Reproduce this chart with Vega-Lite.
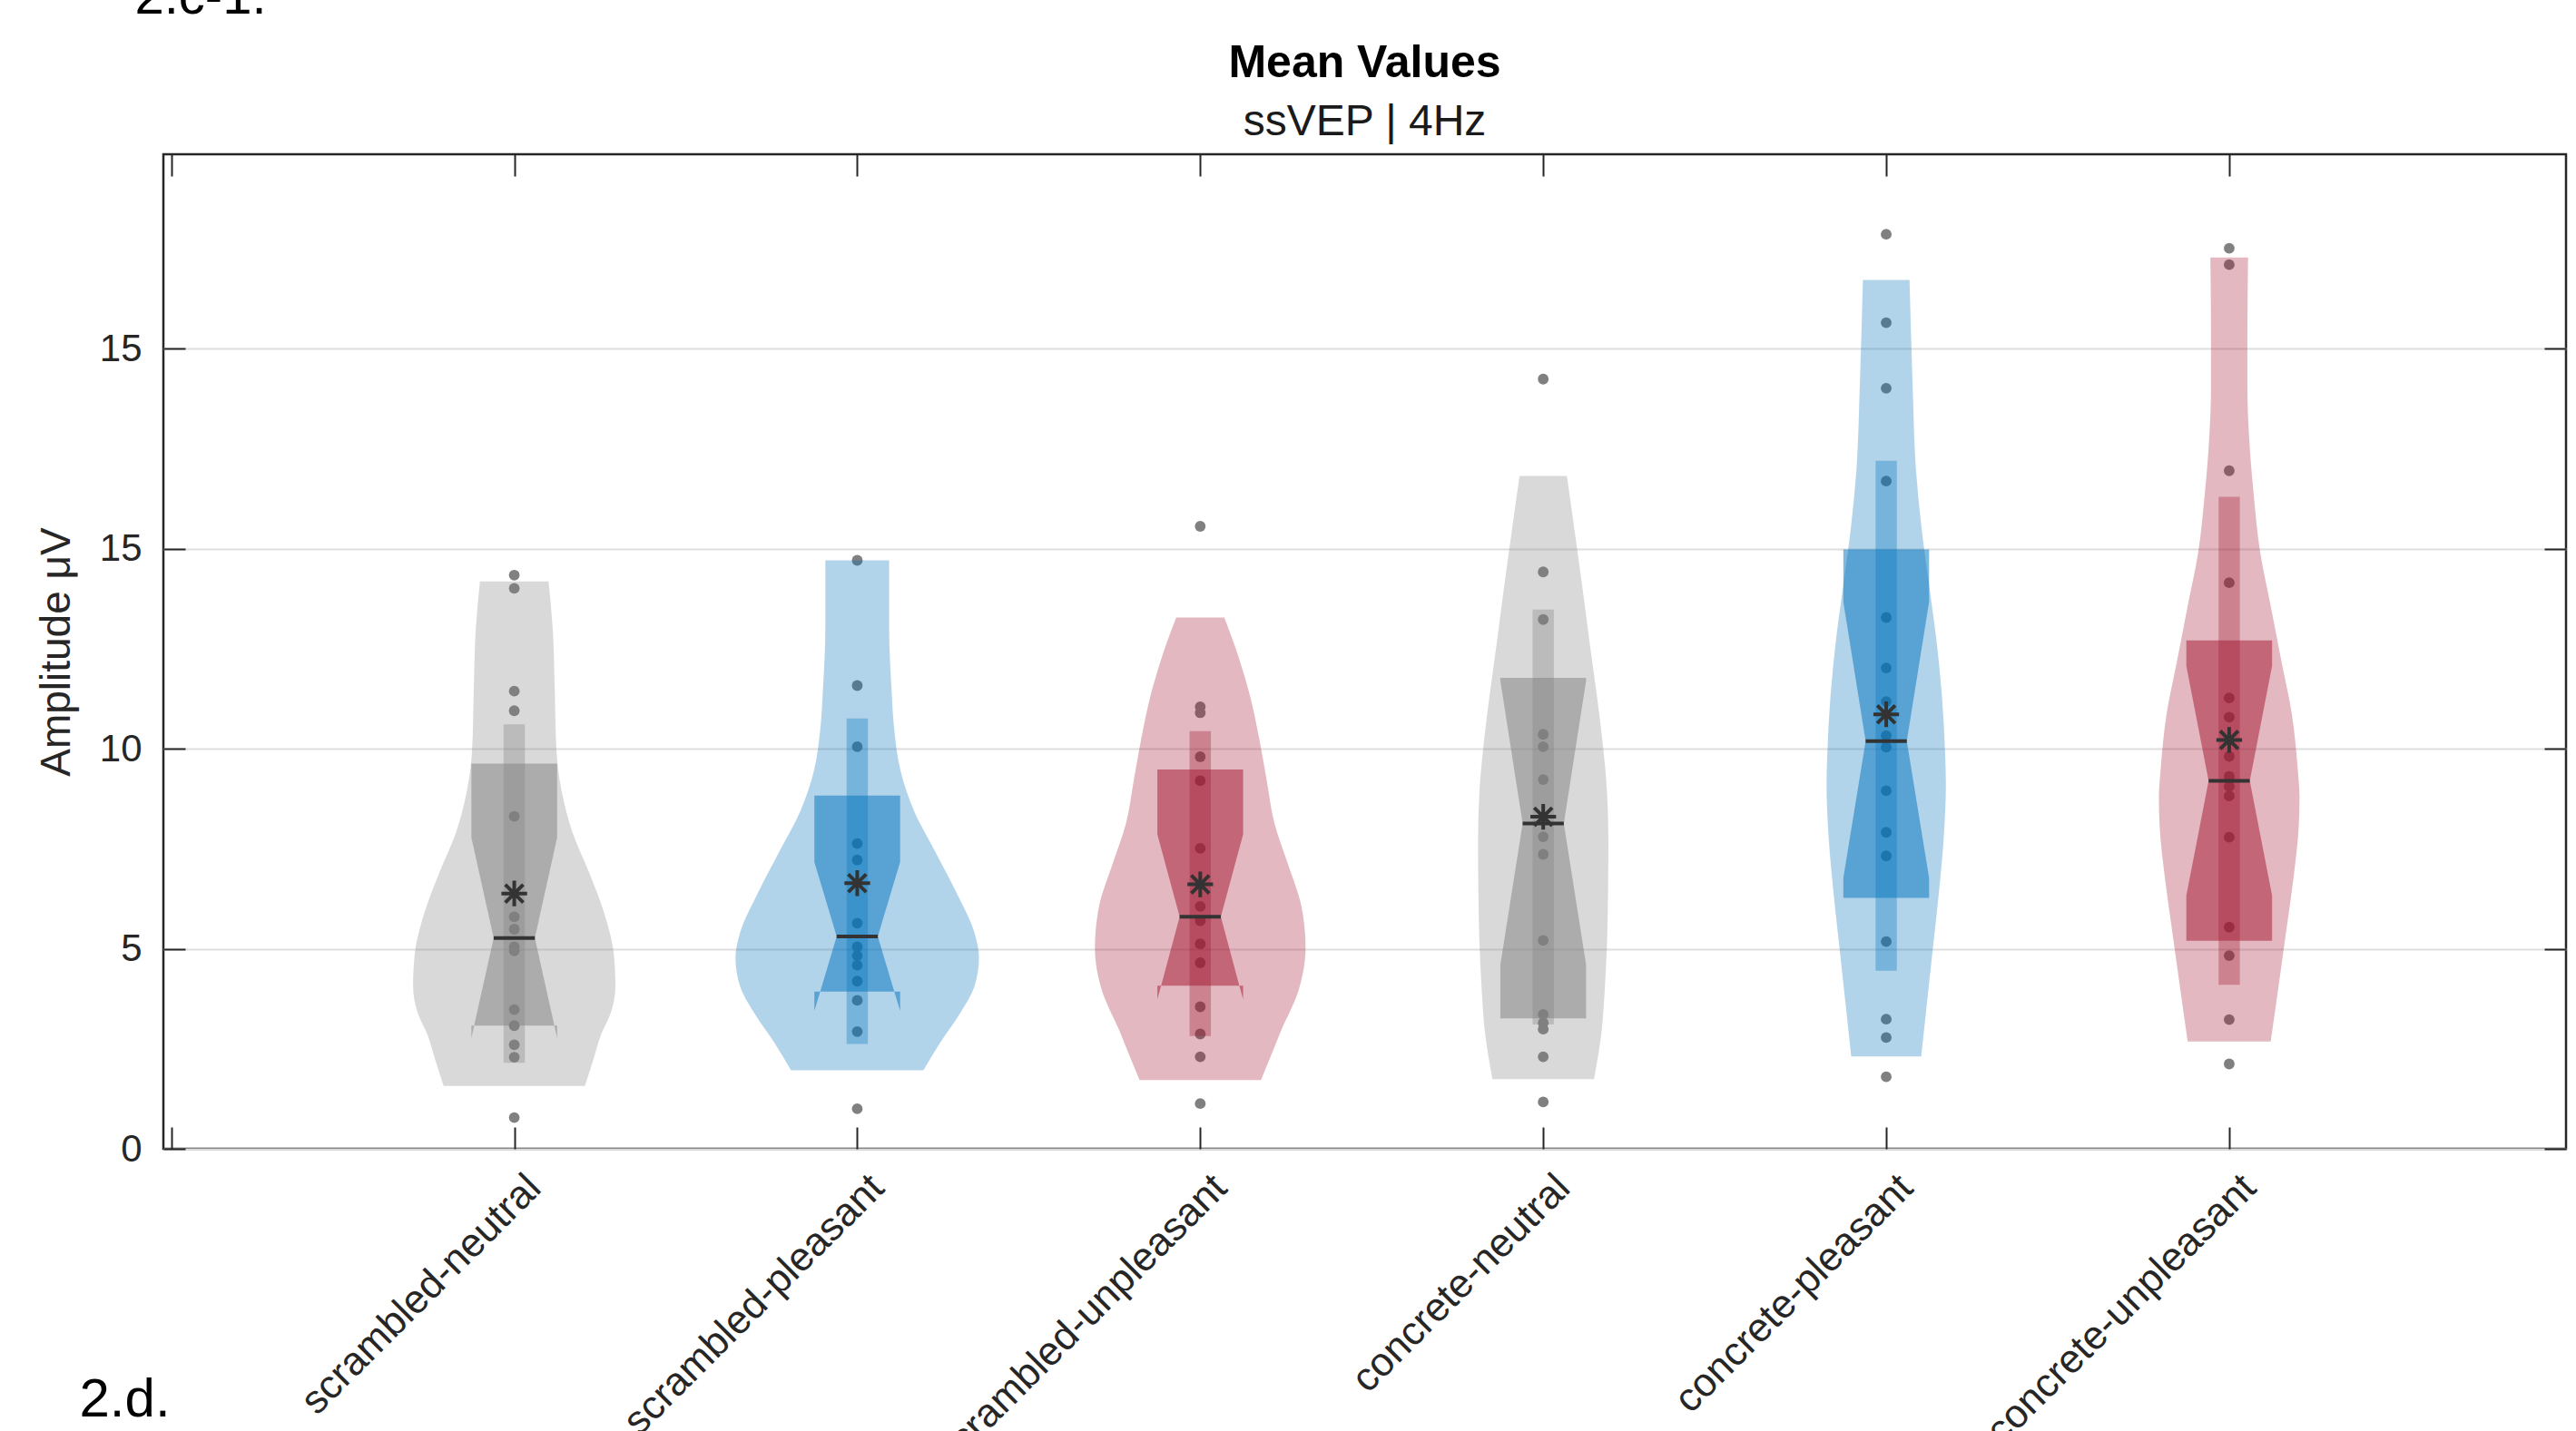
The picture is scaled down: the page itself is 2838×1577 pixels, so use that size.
{
  "$schema": "https://vega.github.io/schema/vega-lite/v6.json",
  "autosize": "none",
  "width": 2647,
  "height": 1096,
  "padding": {"left": 180, "top": 170, "right": 11, "bottom": 311},
  "background": "white",
  "config": {
    "font": "Liberation Sans",
    "view": {"stroke": "#262626", "strokeWidth": 2.5}
  },
  "title": {
    "text": "Mean Values",
    "subtitle": "ssVEP | 4Hz",
    "frame": "group",
    "anchor": "middle",
    "font": "Liberation Sans",
    "fontSize": 50,
    "fontWeight": "bold",
    "color": "#000000",
    "subtitleFont": "Liberation Sans",
    "subtitleFontSize": 48,
    "subtitleFontWeight": "normal",
    "subtitleColor": "#1a1a1a",
    "subtitlePadding": 16,
    "offset": -191
  },
  "datasets": {
    "pts": [
      {"c":1,"g":"neutral","v":14.34},{"c":1,"g":"neutral","v":14.01},{"c":1,"g":"neutral","v":11.44},{"c":1,"g":"neutral","v":10.95},{"c":1,"g":"neutral","v":8.31},{"c":1,"g":"neutral","v":5.80},{"c":1,"g":"neutral","v":5.49},{"c":1,"g":"neutral","v":5.05},{"c":1,"g":"neutral","v":4.95},{"c":1,"g":"neutral","v":3.48},{"c":1,"g":"neutral","v":3.08},{"c":1,"g":"neutral","v":2.60},{"c":1,"g":"neutral","v":2.29},{"c":1,"g":"neutral","v":0.78},
      {"c":2,"g":"pleasant","v":14.71},{"c":2,"g":"pleasant","v":11.58},{"c":2,"g":"pleasant","v":10.05},{"c":2,"g":"pleasant","v":7.63},{"c":2,"g":"pleasant","v":7.22},{"c":2,"g":"pleasant","v":5.64},{"c":2,"g":"pleasant","v":5.05},{"c":2,"g":"pleasant","v":4.83},{"c":2,"g":"pleasant","v":4.59},{"c":2,"g":"pleasant","v":4.19},{"c":2,"g":"pleasant","v":3.71},{"c":2,"g":"pleasant","v":2.93},{"c":2,"g":"pleasant","v":1.00},
      {"c":3,"g":"unpleasant","v":15.56},{"c":3,"g":"unpleasant","v":11.05},{"c":3,"g":"unpleasant","v":10.90},{"c":3,"g":"unpleasant","v":9.80},{"c":3,"g":"unpleasant","v":9.20},{"c":3,"g":"unpleasant","v":7.51},{"c":3,"g":"unpleasant","v":6.06},{"c":3,"g":"unpleasant","v":5.70},{"c":3,"g":"unpleasant","v":5.12},{"c":3,"g":"unpleasant","v":4.65},{"c":3,"g":"unpleasant","v":3.55},{"c":3,"g":"unpleasant","v":2.87},{"c":3,"g":"unpleasant","v":2.30},{"c":3,"g":"unpleasant","v":1.13},
      {"c":4,"g":"neutral","v":19.24},{"c":4,"g":"neutral","v":14.42},{"c":4,"g":"neutral","v":13.23},{"c":4,"g":"neutral","v":10.36},{"c":4,"g":"neutral","v":10.05},{"c":4,"g":"neutral","v":9.23},{"c":4,"g":"neutral","v":7.80},{"c":4,"g":"neutral","v":7.36},{"c":4,"g":"neutral","v":5.21},{"c":4,"g":"neutral","v":3.36},{"c":4,"g":"neutral","v":3.15},{"c":4,"g":"neutral","v":2.99},{"c":4,"g":"neutral","v":2.30},{"c":4,"g":"neutral","v":1.17},
      {"c":5,"g":"pleasant","v":22.86},{"c":5,"g":"pleasant","v":20.65},{"c":5,"g":"pleasant","v":19.01},{"c":5,"g":"pleasant","v":16.69},{"c":5,"g":"pleasant","v":13.28},{"c":5,"g":"pleasant","v":12.02},{"c":5,"g":"pleasant","v":11.18},{"c":5,"g":"pleasant","v":10.33},{"c":5,"g":"pleasant","v":10.04},{"c":5,"g":"pleasant","v":8.95},{"c":5,"g":"pleasant","v":7.91},{"c":5,"g":"pleasant","v":7.32},{"c":5,"g":"pleasant","v":5.18},{"c":5,"g":"pleasant","v":3.24},{"c":5,"g":"pleasant","v":2.78},{"c":5,"g":"pleasant","v":1.80},
      {"c":6,"g":"unpleasant","v":22.51},{"c":6,"g":"unpleasant","v":22.10},{"c":6,"g":"unpleasant","v":16.95},{"c":6,"g":"unpleasant","v":14.15},{"c":6,"g":"unpleasant","v":11.27},{"c":6,"g":"unpleasant","v":10.79},{"c":6,"g":"unpleasant","v":9.81},{"c":6,"g":"unpleasant","v":9.31},{"c":6,"g":"unpleasant","v":9.06},{"c":6,"g":"unpleasant","v":8.82},{"c":6,"g":"unpleasant","v":7.79},{"c":6,"g":"unpleasant","v":5.54},{"c":6,"g":"unpleasant","v":4.83},{"c":6,"g":"unpleasant","v":3.23},{"c":6,"g":"unpleasant","v":2.12}
    ],
    "shp": [
      {"c":1,"g":"neutral","k":"v","y":1.57,"lo":0.794,"hi":1.206},{"c":1,"g":"neutral","k":"v","y":2.24,"lo":0.769,"hi":1.231},{"c":1,"g":"neutral","k":"v","y":2.85,"lo":0.747,"hi":1.253},{"c":1,"g":"neutral","k":"v","y":3.36,"lo":0.72,"hi":1.28},{"c":1,"g":"neutral","k":"v","y":4.07,"lo":0.705,"hi":1.295},{"c":1,"g":"neutral","k":"v","y":4.88,"lo":0.71,"hi":1.29},{"c":1,"g":"neutral","k":"v","y":5.90,"lo":0.738,"hi":1.262},{"c":1,"g":"neutral","k":"v","y":6.91,"lo":0.782,"hi":1.218},{"c":1,"g":"neutral","k":"v","y":7.93,"lo":0.831,"hi":1.169},{"c":1,"g":"neutral","k":"v","y":8.95,"lo":0.862,"hi":1.138},{"c":1,"g":"neutral","k":"v","y":9.96,"lo":0.877,"hi":1.123},{"c":1,"g":"neutral","k":"v","y":11.49,"lo":0.882,"hi":1.118},{"c":1,"g":"neutral","k":"v","y":13.02,"lo":0.888,"hi":1.112},{"c":1,"g":"neutral","k":"v","y":14.18,"lo":0.90,"hi":1.10},
      {"c":1,"g":"neutral","k":"b","y":3.08,"lo":0.883,"hi":1.117},{"c":1,"g":"neutral","k":"b","y":5.27,"lo":0.94,"hi":1.06},{"c":1,"g":"neutral","k":"b","y":7.78,"lo":0.875,"hi":1.125},{"c":1,"g":"neutral","k":"b","y":9.63,"lo":0.875,"hi":1.125},
      {"c":1,"g":"neutral","k":"el","y":2.76,"lo":0.875,"hi":0.875},{"c":1,"g":"neutral","k":"el","y":3.08,"lo":0.875,"hi":0.883},{"c":1,"g":"neutral","k":"er","y":2.76,"lo":1.125,"hi":1.125},{"c":1,"g":"neutral","k":"er","y":3.08,"lo":1.117,"hi":1.125},
      {"c":1,"g":"neutral","k":"s","y":2.15,"lo":0.969,"hi":1.031},{"c":1,"g":"neutral","k":"s","y":10.61,"lo":0.969,"hi":1.031},

      {"c":2,"g":"pleasant","k":"v","y":1.96,"lo":1.807,"hi":2.193},{"c":2,"g":"pleasant","k":"v","y":2.64,"lo":1.759,"hi":2.241},{"c":2,"g":"pleasant","k":"v","y":3.36,"lo":1.702,"hi":2.298},{"c":2,"g":"pleasant","k":"v","y":4.07,"lo":1.658,"hi":2.342},{"c":2,"g":"pleasant","k":"v","y":4.78,"lo":1.645,"hi":2.355},{"c":2,"g":"pleasant","k":"v","y":5.39,"lo":1.658,"hi":2.342},{"c":2,"g":"pleasant","k":"v","y":6.41,"lo":1.711,"hi":2.289},{"c":2,"g":"pleasant","k":"v","y":7.42,"lo":1.772,"hi":2.228},{"c":2,"g":"pleasant","k":"v","y":8.44,"lo":1.834,"hi":2.166},{"c":2,"g":"pleasant","k":"v","y":9.46,"lo":1.874,"hi":2.126},{"c":2,"g":"pleasant","k":"v","y":10.47,"lo":1.892,"hi":2.108},{"c":2,"g":"pleasant","k":"v","y":11.49,"lo":1.90,"hi":2.10},{"c":2,"g":"pleasant","k":"v","y":13.02,"lo":1.907,"hi":2.093},{"c":2,"g":"pleasant","k":"v","y":14.71,"lo":1.907,"hi":2.093},
      {"c":2,"g":"pleasant","k":"b","y":3.93,"lo":1.892,"hi":2.108},{"c":2,"g":"pleasant","k":"b","y":5.31,"lo":1.94,"hi":2.06},{"c":2,"g":"pleasant","k":"b","y":7.17,"lo":1.875,"hi":2.125},{"c":2,"g":"pleasant","k":"b","y":8.83,"lo":1.875,"hi":2.125},
      {"c":2,"g":"pleasant","k":"el","y":3.45,"lo":1.875,"hi":1.875},{"c":2,"g":"pleasant","k":"el","y":3.93,"lo":1.875,"hi":1.892},{"c":2,"g":"pleasant","k":"er","y":3.45,"lo":2.125,"hi":2.125},{"c":2,"g":"pleasant","k":"er","y":3.93,"lo":2.108,"hi":2.125},
      {"c":2,"g":"pleasant","k":"s","y":2.62,"lo":1.969,"hi":2.031},{"c":2,"g":"pleasant","k":"s","y":10.76,"lo":1.969,"hi":2.031},

      {"c":3,"g":"unpleasant","k":"v","y":1.72,"lo":2.823,"hi":3.177},{"c":3,"g":"unpleasant","k":"v","y":2.30,"lo":2.795,"hi":3.205},{"c":3,"g":"unpleasant","k":"v","y":2.92,"lo":2.766,"hi":3.234},{"c":3,"g":"unpleasant","k":"v","y":3.97,"lo":2.713,"hi":3.287},{"c":3,"g":"unpleasant","k":"v","y":5.02,"lo":2.693,"hi":3.307},{"c":3,"g":"unpleasant","k":"v","y":6.06,"lo":2.705,"hi":3.295},{"c":3,"g":"unpleasant","k":"v","y":7.11,"lo":2.744,"hi":3.256},{"c":3,"g":"unpleasant","k":"v","y":8.15,"lo":2.784,"hi":3.216},{"c":3,"g":"unpleasant","k":"v","y":9.20,"lo":2.806,"hi":3.194},{"c":3,"g":"unpleasant","k":"v","y":10.25,"lo":2.828,"hi":3.172},{"c":3,"g":"unpleasant","k":"v","y":11.29,"lo":2.854,"hi":3.146},{"c":3,"g":"unpleasant","k":"v","y":12.34,"lo":2.89,"hi":3.11},{"c":3,"g":"unpleasant","k":"v","y":13.28,"lo":2.93,"hi":3.07},
      {"c":3,"g":"unpleasant","k":"b","y":4.08,"lo":2.886,"hi":3.114},{"c":3,"g":"unpleasant","k":"b","y":5.80,"lo":2.94,"hi":3.06},{"c":3,"g":"unpleasant","k":"b","y":7.86,"lo":2.875,"hi":3.125},{"c":3,"g":"unpleasant","k":"b","y":9.48,"lo":2.875,"hi":3.125},
      {"c":3,"g":"unpleasant","k":"el","y":3.74,"lo":2.875,"hi":2.875},{"c":3,"g":"unpleasant","k":"el","y":4.08,"lo":2.875,"hi":2.886},{"c":3,"g":"unpleasant","k":"er","y":3.74,"lo":3.125,"hi":3.125},{"c":3,"g":"unpleasant","k":"er","y":4.08,"lo":3.114,"hi":3.125},
      {"c":3,"g":"unpleasant","k":"s","y":2.82,"lo":2.969,"hi":3.031},{"c":3,"g":"unpleasant","k":"s","y":10.44,"lo":2.969,"hi":3.031},

      {"c":4,"g":"neutral","k":"v","y":1.74,"lo":3.852,"hi":4.148},{"c":4,"g":"neutral","k":"v","y":2.92,"lo":3.83,"hi":4.17},{"c":4,"g":"neutral","k":"v","y":3.92,"lo":3.821,"hi":4.179},{"c":4,"g":"neutral","k":"v","y":5.17,"lo":3.814,"hi":4.186},{"c":4,"g":"neutral","k":"v","y":6.42,"lo":3.811,"hi":4.189},{"c":4,"g":"neutral","k":"v","y":7.67,"lo":3.81,"hi":4.19},{"c":4,"g":"neutral","k":"v","y":8.92,"lo":3.814,"hi":4.186},{"c":4,"g":"neutral","k":"v","y":10.17,"lo":3.827,"hi":4.173},{"c":4,"g":"neutral","k":"v","y":11.42,"lo":3.845,"hi":4.155},{"c":4,"g":"neutral","k":"v","y":12.67,"lo":3.865,"hi":4.135},{"c":4,"g":"neutral","k":"v","y":13.92,"lo":3.884,"hi":4.116},{"c":4,"g":"neutral","k":"v","y":15.17,"lo":3.904,"hi":4.096},{"c":4,"g":"neutral","k":"v","y":16.82,"lo":3.931,"hi":4.069},
      {"c":4,"g":"neutral","k":"b","y":3.26,"lo":3.875,"hi":4.125},{"c":4,"g":"neutral","k":"b","y":4.6,"lo":3.875,"hi":4.125},{"c":4,"g":"neutral","k":"b","y":8.13,"lo":3.94,"hi":4.06},{"c":4,"g":"neutral","k":"b","y":11.70,"lo":3.875,"hi":4.125},{"c":4,"g":"neutral","k":"b","y":11.77,"lo":3.875,"hi":4.125},
      {"c":4,"g":"neutral","k":"s","y":3.11,"lo":3.969,"hi":4.031},{"c":4,"g":"neutral","k":"s","y":13.48,"lo":3.969,"hi":4.031},

      {"c":5,"g":"pleasant","k":"v","y":2.31,"lo":4.898,"hi":5.102},{"c":5,"g":"pleasant","k":"v","y":3.42,"lo":4.884,"hi":5.116},{"c":5,"g":"pleasant","k":"v","y":4.85,"lo":4.866,"hi":5.134},{"c":5,"g":"pleasant","k":"v","y":6.27,"lo":4.848,"hi":5.152},{"c":5,"g":"pleasant","k":"v","y":7.69,"lo":4.833,"hi":5.167},{"c":5,"g":"pleasant","k":"v","y":9.12,"lo":4.826,"hi":5.174},{"c":5,"g":"pleasant","k":"v","y":9.83,"lo":4.828,"hi":5.172},{"c":5,"g":"pleasant","k":"v","y":11.25,"lo":4.837,"hi":5.163},{"c":5,"g":"pleasant","k":"v","y":12.68,"lo":4.853,"hi":5.147},{"c":5,"g":"pleasant","k":"v","y":14.10,"lo":4.875,"hi":5.125},{"c":5,"g":"pleasant","k":"v","y":15.52,"lo":4.897,"hi":5.103},{"c":5,"g":"pleasant","k":"v","y":16.95,"lo":4.913,"hi":5.087},{"c":5,"g":"pleasant","k":"v","y":19.08,"lo":4.923,"hi":5.077},{"c":5,"g":"pleasant","k":"v","y":21.72,"lo":4.932,"hi":5.068},
      {"c":5,"g":"pleasant","k":"b","y":6.27,"lo":4.875,"hi":5.125},{"c":5,"g":"pleasant","k":"b","y":6.77,"lo":4.875,"hi":5.125},{"c":5,"g":"pleasant","k":"b","y":10.19,"lo":4.94,"hi":5.06},{"c":5,"g":"pleasant","k":"b","y":13.67,"lo":4.875,"hi":5.125},{"c":5,"g":"pleasant","k":"b","y":14.98,"lo":4.875,"hi":5.125},
      {"c":5,"g":"pleasant","k":"s","y":4.45,"lo":4.969,"hi":5.031},{"c":5,"g":"pleasant","k":"s","y":17.20,"lo":4.969,"hi":5.031},

      {"c":6,"g":"unpleasant","k":"v","y":2.68,"lo":5.879,"hi":6.121},{"c":6,"g":"unpleasant","k":"v","y":4.01,"lo":5.857,"hi":6.143},{"c":6,"g":"unpleasant","k":"v","y":5.37,"lo":5.835,"hi":6.165},{"c":6,"g":"unpleasant","k":"v","y":6.74,"lo":5.813,"hi":6.187},{"c":6,"g":"unpleasant","k":"v","y":8.10,"lo":5.797,"hi":6.203},{"c":6,"g":"unpleasant","k":"v","y":8.79,"lo":5.795,"hi":6.205},{"c":6,"g":"unpleasant","k":"v","y":9.47,"lo":5.80,"hi":6.20},{"c":6,"g":"unpleasant","k":"v","y":10.84,"lo":5.817,"hi":6.183},{"c":6,"g":"unpleasant","k":"v","y":12.20,"lo":5.848,"hi":6.152},{"c":6,"g":"unpleasant","k":"v","y":13.57,"lo":5.879,"hi":6.121},{"c":6,"g":"unpleasant","k":"v","y":14.93,"lo":5.91,"hi":6.09},{"c":6,"g":"unpleasant","k":"v","y":16.30,"lo":5.928,"hi":6.072},{"c":6,"g":"unpleasant","k":"v","y":17.66,"lo":5.941,"hi":6.059},{"c":6,"g":"unpleasant","k":"v","y":19.03,"lo":5.947,"hi":6.053},{"c":6,"g":"unpleasant","k":"v","y":20.40,"lo":5.947,"hi":6.053},{"c":6,"g":"unpleasant","k":"v","y":22.28,"lo":5.945,"hi":6.055},
      {"c":6,"g":"unpleasant","k":"b","y":5.20,"lo":5.875,"hi":6.125},{"c":6,"g":"unpleasant","k":"b","y":6.33,"lo":5.875,"hi":6.125},{"c":6,"g":"unpleasant","k":"b","y":9.20,"lo":5.94,"hi":6.06},{"c":6,"g":"unpleasant","k":"b","y":12.07,"lo":5.875,"hi":6.125},{"c":6,"g":"unpleasant","k":"b","y":12.71,"lo":5.875,"hi":6.125},
      {"c":6,"g":"unpleasant","k":"s","y":4.10,"lo":5.969,"hi":6.031},{"c":6,"g":"unpleasant","k":"s","y":16.30,"lo":5.969,"hi":6.031}
    ],
    "st": [
      {"c":1,"med":5.27,"mlo":0.94,"mhi":1.06,"mean":6.38},
      {"c":2,"med":5.31,"mlo":1.94,"mhi":2.06,"mean":6.64},
      {"c":3,"med":5.80,"mlo":2.94,"mhi":3.06,"mean":6.61},
      {"c":4,"med":8.13,"mlo":3.94,"mhi":4.06,"mean":8.30},
      {"c":5,"med":10.19,"mlo":4.94,"mhi":5.06,"mean":10.86},
      {"c":6,"med":9.20,"mlo":5.94,"mhi":6.06,"mean":10.22}
    ]
  },
  "resolve": {"axis": {"x": "independent", "y": "independent"}},
  "layer": [
    {
      "data": {"name": "pts"},
      "mark": {"type": "circle", "size": 140, "color": "#808080", "opacity": 1},
      "encoding": {
        "x": {
          "field": "c", "type": "quantitative",
          "scale": {"domain": [-0.023, 6.982], "nice": false, "zero": false},
          "axis": {
            "orient": "bottom",
            "values": [0, 1, 2, 3, 4, 5, 6],
            "labelExpr": "['', 'scrambled-neutral', 'scrambled-pleasant', 'scrambled-unpleasant', 'concrete-neutral', 'concrete-pleasant', 'concrete-unpleasant', ''][datum.value]",
            "domain": false,
            "grid": false,
            "ticks": true,
            "tickSize": -24,
            "tickWidth": 2,
            "tickColor": "#262626",
            "labelAngle": -45,
            "labelAlign": "right",
            "labelBaseline": "middle",
            "labelFont": "Liberation Sans",
            "labelFontSize": 44,
            "labelColor": "#262626",
            "labelPadding": 60,
            "labelOffset": 22,
            "labelLimit": 1000,
            "labelFlush": false,
            "labelOverlap": false,
            "labelBound": false,
            "title": "2.d.",
            "titleFont": "Liberation Sans",
            "titleFontSize": 60,
            "titleFontWeight": "normal",
            "titleColor": "#000000",
            "titleX": -93,
            "titleY": 294,
            "titleAlign": "left",
            "titleBaseline": "alphabetic",
            "titleAngle": 0
          }
        },
        "y": {
          "field": "v", "type": "quantitative",
          "scale": {"domain": [0, 24.86], "nice": false, "zero": false},
          "axis": {
            "orient": "left",
            "values": [0, 5, 10, 15, 20],
            "labelExpr": "datum.value == 20 ? '15' : datum.label",
            "domain": false,
            "grid": true,
            "gridColor": "#dedede",
            "gridWidth": 2,
            "tickSize": -24,
            "tickWidth": 2,
            "tickColor": "#262626",
            "labelFont": "Liberation Sans",
            "labelFontSize": 42,
            "labelColor": "#262626",
            "labelPadding": 48,
            "labelFlush": false,
            "labelOverlap": false,
            "title": "Amplitude μV",
            "titleFont": "Liberation Sans",
            "titleFontSize": 46,
            "titleFontWeight": "normal",
            "titleColor": "#262626",
            "titleX": -104,
            "titleY": 548,
            "titleAngle": -90,
            "titleAlign": "center",
            "titleBaseline": "alphabetic"
          }
        }
      }
    },
    {
      "data": {"name": "shp"},
      "transform": [{"filter": "datum.k === 'v'"}],
      "mark": {"type": "area", "orient": "horizontal", "opacity": 0.3, "interpolate": "monotone"},
      "encoding": {
        "y": {
          "field": "y", "type": "quantitative",
          "scale": {"domain": [0, 24.86], "nice": false, "zero": false},
          "axis": {
            "orient": "right",
            "values": [0, 5, 10, 15, 20],
            "labels": false,
            "domain": false,
            "grid": false,
            "tickSize": -24,
            "tickWidth": 2,
            "tickColor": "#262626",
            "title": null
          }
        },
        "x": {
          "field": "lo", "type": "quantitative",
          "scale": {"domain": [-0.023, 6.982], "nice": false, "zero": false},
          "axis": {
            "orient": "top",
            "values": [0, 1, 2, 3, 4, 5, 6],
            "labels": false,
            "domain": false,
            "grid": false,
            "tickSize": -24,
            "tickWidth": 2,
            "tickColor": "#262626",
            "title": "2.c-1.",
            "titleFont": "Liberation Sans",
            "titleFontSize": 58,
            "titleFontWeight": "normal",
            "titleColor": "#000000",
            "titleX": -32,
            "titleY": -156,
            "titleAlign": "left",
            "titleBaseline": "alphabetic",
            "titleAngle": 0
          }
        },
        "x2": {"field": "hi"},
        "color": {
          "field": "g", "type": "nominal",
          "scale": {"domain": ["neutral", "pleasant", "unpleasant"], "range": ["#808080", "#0072BD", "#A2142F"]},
          "legend": null
        },
        "detail": {"field": "c"}
      }
    },
    {
      "data": {"name": "shp"},
      "transform": [{"filter": "datum.k === 'b' || datum.k === 'el' || datum.k === 'er'"}],
      "mark": {"type": "area", "orient": "horizontal", "opacity": 0.5},
      "encoding": {
        "y": {"field": "y", "type": "quantitative", "scale": {"domain": [0, 24.86], "nice": false, "zero": false}, "axis": null},
        "x": {"field": "lo", "type": "quantitative", "scale": {"domain": [-0.023, 6.982], "nice": false, "zero": false}, "axis": null},
        "x2": {"field": "hi"},
        "color": {"field": "g", "type": "nominal", "scale": {"domain": ["neutral", "pleasant", "unpleasant"], "range": ["#808080", "#0072BD", "#A2142F"]}, "legend": null},
        "detail": [{"field": "c"}, {"field": "k"}]
      }
    },
    {
      "data": {"name": "shp"},
      "transform": [{"filter": "datum.k === 's'"}],
      "mark": {"type": "area", "orient": "horizontal", "opacity": 0.33},
      "encoding": {
        "y": {"field": "y", "type": "quantitative", "scale": {"domain": [0, 24.86], "nice": false, "zero": false}, "axis": null},
        "x": {"field": "lo", "type": "quantitative", "scale": {"domain": [-0.023, 6.982], "nice": false, "zero": false}, "axis": null},
        "x2": {"field": "hi"},
        "color": {"field": "g", "type": "nominal", "scale": {"domain": ["neutral", "pleasant", "unpleasant"], "range": ["#808080", "#0072BD", "#A2142F"]}, "legend": null},
        "detail": {"field": "c"}
      }
    },
    {
      "data": {"name": "st"},
      "mark": {"type": "rule", "color": "#333333", "strokeWidth": 4},
      "encoding": {
        "y": {"field": "med", "type": "quantitative", "scale": {"domain": [0, 24.86], "nice": false, "zero": false}, "axis": null},
        "x": {"field": "mlo", "type": "quantitative", "scale": {"domain": [-0.023, 6.982], "nice": false, "zero": false}, "axis": null},
        "x2": {"field": "mhi"}
      }
    },
    {
      "data": {"name": "st"},
      "mark": {"type": "point", "shape": "M-1,0L1,0M0,-1L0,1M-0.7,-0.7L0.7,0.7M-0.7,0.7L0.7,-0.7", "filled": false, "stroke": "#333333", "strokeWidth": 4, "size": 800, "opacity": 1},
      "encoding": {
        "y": {"field": "mean", "type": "quantitative", "scale": {"domain": [0, 24.86], "nice": false, "zero": false}, "axis": null},
        "x": {"field": "c", "type": "quantitative", "scale": {"domain": [-0.023, 6.982], "nice": false, "zero": false}, "axis": null}
      }
    },
    {
      "mark": {"type": "rule", "color": "#333333", "strokeWidth": 1.5},
      "encoding": {
        "x": {"datum": 3.5, "type": "quantitative", "scale": {"domain": [-0.023, 6.982], "nice": false, "zero": false}, "axis": null}
      }
    }
  ]
}
